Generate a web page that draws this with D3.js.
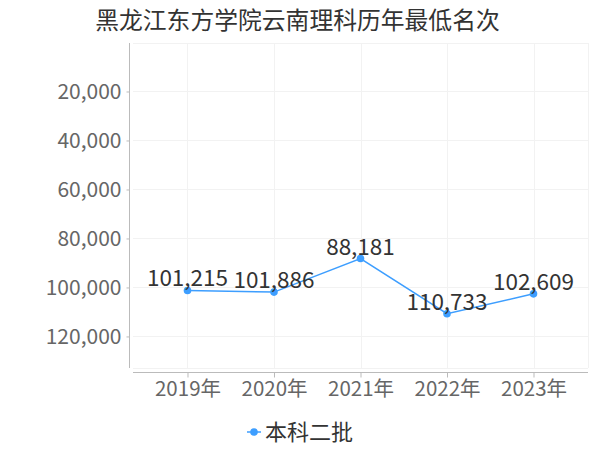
<!DOCTYPE html>
<html><head><meta charset="utf-8">
<script src="https://cdn.jsdelivr.net/npm/d3@7"></script>
<style>body{margin:0;background:#fff}svg{display:block}text{font-family:"Noto Sans CJK SC","Noto Sans",sans-serif}</style>
</head><body><svg id="c" width="600" height="450"></svg>
<script>
const categories = ["2019年","2020年","2021年","2022年","2023年"];
const values = [101215, 101886, 88181, 110733, 102609];
const yTicks = [20000, 40000, 60000, 80000, 100000, 120000];
const seriesName = "本科二批";
const title = "黑龙江东方学院云南理科历年最低名次";

const svg = d3.select("#c");
const L = 133, R = 588, T = 43, B = 368;
const color = "#3d9eff";
const fmt = d3.format(",");

svg.append("text").attr("x", 297.5).attr("y", 29).attr("text-anchor", "middle")
  .attr("font-size", 23.8).attr("fill", "#333").text(title);

const x = d3.scalePoint().domain(categories).range([L, R]).padding(0.63);
const y = d3.scaleLinear().domain([0, d3.max(values) * 1.2]).range([T - 0.5, B]);

// grid
const g = svg.append("g");
g.selectAll(".hg").data(yTicks.concat([0, d3.max(values)*1.2])).join("line")
  .attr("x1", L).attr("x2", R).attr("y1", d => Math.round(y(d)) + 0.5).attr("y2", d => Math.round(y(d)) + 0.5)
  .attr("stroke", "#f2f2f2");
g.selectAll(".vg").data(categories).join("line")
  .attr("x1", d => Math.round(x(d)) + 0.5).attr("x2", d => Math.round(x(d)) + 0.5).attr("y1", T).attr("y2", B)
  .attr("stroke", "#f2f2f2");
g.append("line").attr("x1", R + 0.5).attr("x2", R + 0.5).attr("y1", T).attr("y2", B).attr("stroke", "#f2f2f2");

// y axis
const ya = svg.append("g").attr("transform", "translate(129.5,0)")
  .call(d3.axisLeft(y).tickValues(yTicks).tickFormat(fmt).tickSize(3).tickSizeOuter(0).tickPadding(5));
ya.select(".domain").attr("stroke", "#bbb").attr("d", `M0,${T}V${B}`);
ya.selectAll(".tick line").attr("stroke", "#bbb");
ya.selectAll(".tick text").attr("font-size", 21).attr("fill", "#666").attr("font-family", '"Noto Sans CJK SC",sans-serif');

// x axis
const xa = svg.append("g").attr("transform", "translate(0,372.5)")
  .call(d3.axisBottom(x).tickSize(5).tickSizeOuter(0).tickPadding(4));
xa.select(".domain").attr("stroke", "#bbb").attr("d", `M${L},0H${R}`);
xa.selectAll(".tick line").attr("stroke", "#bbb");
xa.selectAll(".tick text").attr("font-size", 20.5).attr("fill", "#666").attr("font-family", '"Noto Sans CJK SC",sans-serif');

// line
const pts = categories.map((c, i) => ({c, v: values[i]}));
svg.append("path").datum(pts)
  .attr("d", d3.line().x(d => x(d.c)).y(d => y(d.v)))
  .attr("fill", "none").attr("stroke", color).attr("stroke-width", 1.5);
svg.selectAll(".pt").data(pts).join("circle")
  .attr("cx", d => x(d.c)).attr("cy", d => y(d.v)).attr("r", 3.8).attr("fill", color);
svg.selectAll(".lbl").data(pts).join("text")
  .attr("x", d => x(d.c)).attr("y", d => y(d.v) - 4).attr("text-anchor", "middle")
  .attr("font-size", 22.5).attr("fill", "#333").text(d => fmt(d.v));

// legend
const lg = svg.append("g").attr("transform", "translate(254,432)");
lg.append("line").attr("x1", -7).attr("x2", 7).attr("stroke", color).attr("stroke-width", 1.5);
lg.append("circle").attr("r", 3.8).attr("fill", color);
lg.append("text").attr("x", 11).attr("y", 8).attr("font-size", 22).attr("fill", "#333").text(seriesName);
</script></body></html>
